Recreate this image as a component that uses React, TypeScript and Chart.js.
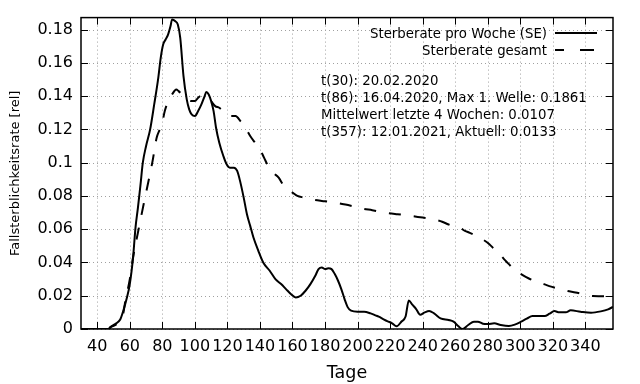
import React, { useEffect, useRef } from "react";
import { Chart, registerables } from "chart.js";

Chart.register(...registerables);

// ---- data ----
const weekDays = [
  30, 40, 47, 48, 51, 54, 56, 58, 60, 62, 63.5, 65, 66.5, 68, 70, 72.5, 75, 77.5, 79, 80.5, 82, 83.5, 85, 86,
  88, 89.5, 91, 93, 95, 96.5, 98, 100, 102, 104, 106, 107, 108.5, 110, 111.5, 113, 115, 117.5, 119.5, 121.5,
  124, 126, 128, 130, 132, 134, 136, 139, 142, 146, 149.5, 153, 156, 159, 162, 165, 168, 171, 174, 176, 178,
  180, 182, 184, 186, 188, 190, 192, 194, 196, 200, 204, 208, 211, 213, 216, 218.5, 221, 224, 227, 229.5,
  231.5, 233.5, 236, 238.5, 241, 244, 247, 251, 256, 259, 262, 264.5, 268, 271.5, 274, 277, 280, 284, 288,
  293, 297, 300.5, 304, 307.5, 315, 318, 321, 324, 328, 331, 337, 343.5, 349.5, 354, 357,
];
const weekValues = [
  0, 0, 0, 0.001, 0.003, 0.0055, 0.011, 0.018, 0.027, 0.043, 0.061, 0.073, 0.086, 0.1, 0.11, 0.12, 0.135,
  0.151, 0.163, 0.171, 0.174, 0.177, 0.182, 0.1861, 0.185, 0.183, 0.175, 0.152, 0.138, 0.132, 0.129, 0.128,
  0.131, 0.135, 0.14, 0.1425, 0.141, 0.137, 0.131, 0.121, 0.112, 0.104, 0.099, 0.097, 0.097, 0.095, 0.088,
  0.079, 0.069, 0.062, 0.055, 0.047, 0.04, 0.035, 0.03, 0.027, 0.024, 0.021, 0.019, 0.02, 0.023, 0.027, 0.032,
  0.036, 0.037, 0.036, 0.0365, 0.036, 0.033, 0.029, 0.024, 0.018, 0.013, 0.011, 0.0104, 0.0104, 0.0094,
  0.0082, 0.0074, 0.0058, 0.0046, 0.0036, 0.0016, 0.0045, 0.0075, 0.0172, 0.0148, 0.012, 0.0086, 0.0098,
  0.0108, 0.0094, 0.0064, 0.0054, 0.0044, 0.0016, 0, 0.0024, 0.0044, 0.0044, 0.0032, 0.003, 0.0034, 0.0024,
  0.0018, 0.0028, 0.0044, 0.0062, 0.0078, 0.0078, 0.0092, 0.0108, 0.01, 0.01, 0.0112, 0.0104, 0.0098, 0.0106,
  0.0118, 0.0133,
];

const totalDays = [
  30, 47, 48, 52, 54, 56, 57, 60, 62, 65, 68.5, 71.5, 74, 76.5, 78, 79.5, 81.5, 84, 86, 88.5, 90, 92, 95, 98,
  100, 102, 103.5, 106, 109, 112.5, 115, 117.5, 120, 122, 125, 128, 131, 134, 137, 140, 142.5, 145, 148,
  151.5, 154, 157, 160, 163, 167, 171, 178, 183, 187.5, 192.5, 197, 203, 209, 214, 218, 224.5, 229, 234, 240,
  245, 249, 252, 255.5, 260, 263.5, 266, 269, 273, 277, 281, 284, 287, 290, 293, 296.5, 299, 301.5, 305,
  309.5, 315, 319, 323, 329, 334, 338.5, 344.5, 349, 353, 357,
];
const totalValues = [
  0, 0, 0.001, 0.003, 0.006, 0.0094, 0.0154, 0.03, 0.043, 0.058, 0.075, 0.089, 0.101, 0.115, 0.119, 0.122,
  0.131, 0.138, 0.141, 0.144, 0.143, 0.141, 0.138, 0.137, 0.137, 0.139, 0.14, 0.139, 0.138, 0.134, 0.133,
  0.131, 0.13, 0.128, 0.128, 0.125, 0.121, 0.116, 0.112, 0.108, 0.103, 0.098, 0.094, 0.091, 0.087, 0.084,
  0.082, 0.08, 0.079, 0.078, 0.077, 0.0765, 0.0758, 0.0748, 0.0738, 0.0724, 0.0714, 0.0705, 0.0698, 0.069,
  0.0685, 0.0678, 0.067, 0.0663, 0.0654, 0.0645, 0.063, 0.0615, 0.0604, 0.059, 0.0578, 0.056, 0.0538, 0.051,
  0.048, 0.0454, 0.042, 0.039, 0.0354, 0.034, 0.0324, 0.0305, 0.0286, 0.0268, 0.0255, 0.0243, 0.0229, 0.022,
  0.021, 0.0198, 0.0197, 0.0196, 0.019,
];

const xTicks = [40, 60, 80, 100, 120, 140, 160, 180, 200, 220, 240, 260, 280, 300, 320, 340];
const yTicks = [0, 0.02, 0.04, 0.06, 0.08, 0.1, 0.12, 0.14, 0.16, 0.18];
const seriesLabels = ["Sterberate pro Woche (SE)", "Sterberate gesamt"];
const infoLines = [
  "t(30): 20.02.2020",
  "t(86): 16.04.2020, Max 1. Welle: 0.1861",
  "Mittelwert letzte 4 Wochen: 0.0107",
  "t(357): 12.01.2021, Aktuell: 0.0133",
];
const xTitle = "Tage";
const yTitle = "Fallsterblichkeitsrate [rel]";
const X_MIN = 30;
const X_MAX = 357;
const Y_MIN = 0;
const Y_MAX = 0.1872;

const FONT = "'DejaVu Sans', sans-serif";
const DASH = [12, 13];

const framePlugin = {
  id: "gnuplotFrame",
  beforeDatasetsDraw(chart: any) {
    const { ctx, chartArea, scales } = chart;
    const { left, right, top, bottom } = chartArea;
    ctx.save();
    ctx.strokeStyle = "#a0a0a0";
    ctx.lineWidth = 1;
    ctx.setLineDash([1, 3]);
    for (const v of xTicks) {
      const px = Math.round(scales.x.getPixelForValue(v)) + 0.5;
      ctx.beginPath();
      ctx.moveTo(px, top);
      ctx.lineTo(px, bottom);
      ctx.stroke();
    }
    for (const v of yTicks) {
      const py = Math.round(scales.y.getPixelForValue(v)) + 0.5;
      ctx.beginPath();
      ctx.moveTo(left, py);
      ctx.lineTo(right, py);
      ctx.stroke();
    }
    ctx.restore();
  },
  afterDatasetsDraw(chart: any) {
    const { ctx, chartArea, scales } = chart;
    const { left, right, top, bottom } = chartArea;
    ctx.save();
    ctx.setLineDash([]);
    ctx.strokeStyle = "#000";
    ctx.lineWidth = 1.5;
    ctx.strokeRect(left, top, right - left, bottom - top);
    ctx.lineWidth = 1;
    const tl = 7;
    for (const v of xTicks) {
      const px = Math.round(scales.x.getPixelForValue(v)) + 0.5;
      ctx.beginPath();
      ctx.moveTo(px, bottom);
      ctx.lineTo(px, bottom - tl);
      ctx.moveTo(px, top);
      ctx.lineTo(px, top + tl);
      ctx.stroke();
    }
    for (const v of yTicks) {
      const py = Math.round(scales.y.getPixelForValue(v)) + 0.5;
      ctx.beginPath();
      ctx.moveTo(left, py);
      ctx.lineTo(left + tl, py);
      ctx.moveTo(right, py);
      ctx.lineTo(right - tl, py);
      ctx.stroke();
    }

    // legend
    ctx.fillStyle = "#000";
    ctx.font = `13.3px ${FONT}`;
    ctx.textAlign = "right";
    ctx.textBaseline = "alphabetic";
    const legY = [33, 50];
    seriesLabels.forEach((label, i) => {
      ctx.fillText(label, 547, legY[i] + 4.8);
    });
    ctx.lineWidth = 2;
    ctx.beginPath();
    ctx.moveTo(555, legY[0]);
    ctx.lineTo(597, legY[0]);
    ctx.stroke();
    ctx.beginPath();
    ctx.moveTo(555, legY[1]);
    ctx.lineTo(564, legY[1]);
    ctx.moveTo(580, legY[1]);
    ctx.lineTo(594, legY[1]);
    ctx.stroke();

    // info text
    ctx.textAlign = "left";
    infoLines.forEach((line, i) => {
      ctx.fillText(line, 321, 84.8 + i * 17);
    });

    // axis titles
    ctx.font = `17.5px ${FONT}`;
    ctx.textAlign = "center";
    ctx.fillText(xTitle, (left + right) / 2, 377.5);
    ctx.save();
    ctx.translate(16, (top + bottom) / 2);
    ctx.rotate(-Math.PI / 2);
    ctx.font = `13px ${FONT}`;
    ctx.textBaseline = "middle";
    ctx.fillText(yTitle, 0, 0);
    ctx.restore();
    ctx.restore();
  },
};

export default function App() {
  const canvasRef = useRef<HTMLCanvasElement | null>(null);

  useEffect(() => {
    if (!canvasRef.current) return;
    const chart = new Chart(canvasRef.current, {
      type: "line",
      data: {
        datasets: [
          {
            label: seriesLabels[0],
            data: weekDays.map((d, i) => ({ x: d, y: weekValues[i] })),
            borderColor: "#000",
            borderWidth: 2,
            pointRadius: 0,
            fill: false,
            cubicInterpolationMode: "monotone",
          },
          {
            label: seriesLabels[1],
            data: totalDays.map((d, i) => ({ x: d, y: totalValues[i] })),
            borderColor: "#000",
            borderWidth: 2,
            borderDash: DASH,
            pointRadius: 0,
            fill: false,
            cubicInterpolationMode: "monotone",
          },
        ],
      },
      options: {
        animation: false,
        responsive: true,
        maintainAspectRatio: false,
        layout: { padding: { left: 0, right: 27, top: 17, bottom: 0 } },
        plugins: {
          legend: { display: false },
          tooltip: { enabled: false },
          title: { display: false },
        },
        scales: {
          x: {
            type: "linear",
            min: X_MIN,
            max: X_MAX,
            grid: { display: false, drawTicks: false },
            border: { display: false },
            afterFit: (scale: any) => {
              scale.height = 55;
            },
            afterBuildTicks: (scale: any) => {
              scale.ticks = xTicks.map((v) => ({ value: v }));
            },
            ticks: {
              padding: 8,
              color: "#000",
              font: { family: FONT, size: 16 },
              maxRotation: 0,
              autoSkip: false,
              callback: (v: any) => String(v),
            },
          },
          y: {
            type: "linear",
            min: Y_MIN,
            max: Y_MAX,
            grid: { display: false, drawTicks: false },
            border: { display: false },
            afterFit: (scale: any) => {
              scale.width = 81;
            },
            afterBuildTicks: (scale: any) => {
              scale.ticks = yTicks.map((v) => ({ value: v }));
            },
            ticks: {
              padding: 8,
              color: "#000",
              font: { family: FONT, size: 16 },
              autoSkip: false,
              callback: (v: any) => String(parseFloat(Number(v).toFixed(2))),
            },
          },
        },
      },
      plugins: [framePlugin],
    } as any);
    return () => chart.destroy();
  }, []);

  return (
    <div style={{ position: "fixed", left: 0, top: 0, width: 640, height: 384, background: "#fff" }}>
      <canvas ref={canvasRef} />
    </div>
  );
}
